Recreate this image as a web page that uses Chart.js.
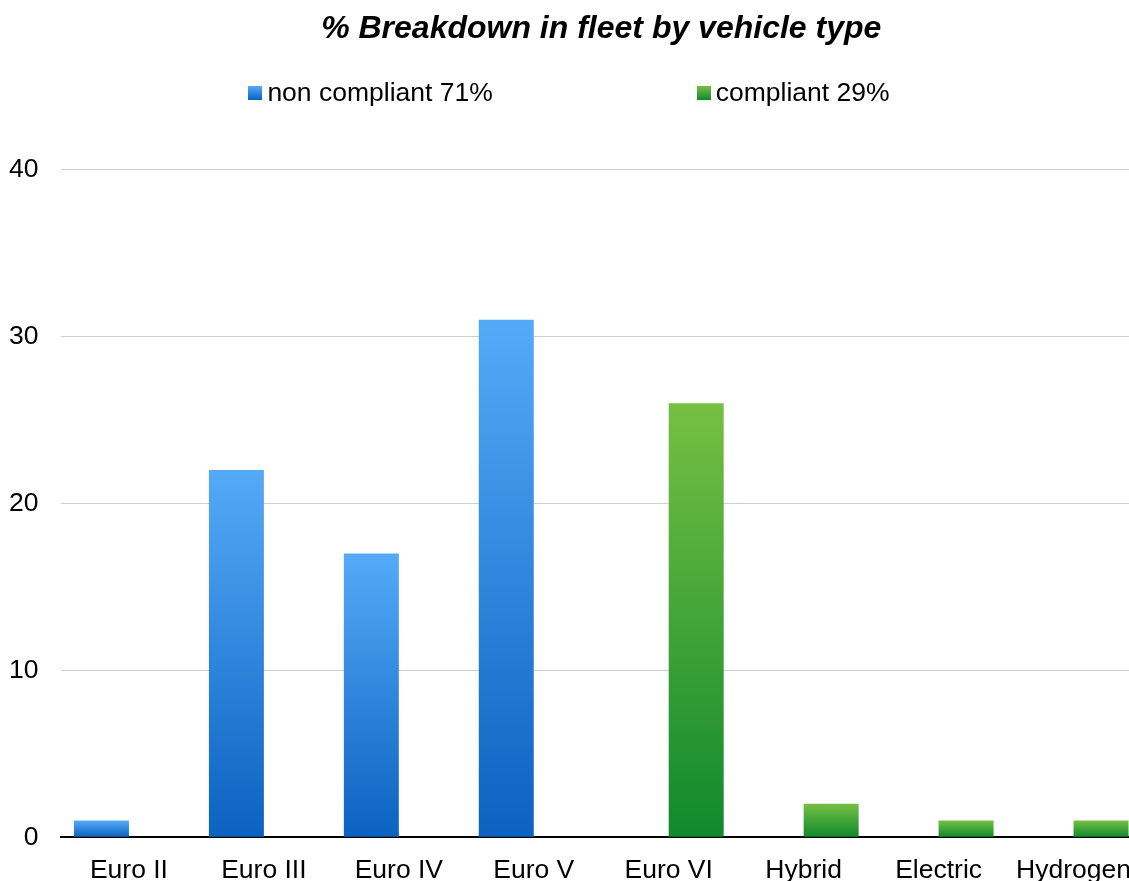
<!DOCTYPE html>
<html>
<head>
<meta charset="utf-8">
<script src="https://cdn.jsdelivr.net/npm/chart.js@4/dist/chart.umd.min.js"></script>
<style>
  html, body { margin: 0; padding: 0; background: #fff; overflow: hidden; }
  #wrap { position: relative; width: 1129px; height: 881px; overflow: hidden; }
  #legend {
    position: absolute; top: 77px; left: 0; width: 1129px;
    display: flex; justify-content: center; padding-left: 9px; box-sizing: border-box;
    font-family: "Liberation Sans", Arial, sans-serif; font-size: 26.5px; color: #000;
  }
  .item { display: flex; align-items: center; }
  .item + .item { margin-left: 204px; }
  .box { width: 14px; height: 14px; margin-right: 5px; }
</style>
</head>
<body>
<div id="wrap">
  <!-- область графика уходит за правый край, как в исходной картинке -->
  <canvas id="myChart" width="1141" height="881"></canvas>
  <div id="legend"></div>
</div>
<script>
const categories = ["Euro II", "Euro III", "Euro IV", "Euro V", "Euro VI", "Hybrid", "Electric", "Hydrogen"];
const nonCompliant = [1, 22, 17, 31, 0, 0, 0, 0];
const compliant = [0, 0, 0, 0, 26, 2, 1, 1];
const seriesLabels = ["non compliant 71%", "compliant 29%"];
const yTicks = [0, 10, 20, 30, 40];

const FONT = "'Liberation Sans', Arial, sans-serif";
const blue = ["#55aaf8", "#0b62c0"];
const green = ["#76c043", "#0f892d"];

// градиент по высоте каждого столбика
function barGradient(colors) {
  return (c) => {
    const chart = c.chart;
    if (!chart.chartArea || c.raw == null) return colors[1];
    const y = chart.scales.y;
    const top = y.getPixelForValue(c.raw);
    const base = y.getPixelForValue(0);
    if (base - top < 1) return colors[1];
    const g = chart.ctx.createLinearGradient(0, top, 0, base);
    g.addColorStop(0, colors[0]);
    g.addColorStop(1, colors[1]);
    return g;
  };
}

// легенда
const legend = document.querySelector("#legend");
[blue, green].forEach((colors, i) => {
  const item = document.createElement("div");
  item.className = "item";
  const box = document.createElement("div");
  box.className = "box";
  box.style.background = `linear-gradient(${colors[0]}, ${colors[1]})`;
  const text = document.createElement("span");
  text.textContent = seriesLabels[i];
  item.appendChild(box);
  item.appendChild(text);
  legend.appendChild(item);
});

new Chart(document.getElementById("myChart"), {
  type: "bar",
  data: {
    labels: categories,
    datasets: [
      { label: seriesLabels[0], data: nonCompliant, backgroundColor: barGradient(blue) },
      { label: seriesLabels[1], data: compliant, backgroundColor: barGradient(green) },
    ],
  },
  options: {
    responsive: false,
    animation: false,
    categoryPercentage: 0.815,
    barPercentage: 1,
    layout: { padding: { left: -14, right: 0, top: 0, bottom: -16 } },
    plugins: {
      legend: { display: false },
      tooltip: { enabled: false },
      title: {
        display: true,
        fullSize: false,
        text: "% Breakdown in fleet by vehicle type",
        color: "#000",
        font: { family: FONT, size: 32, weight: "bold", style: "italic" },
        padding: { top: 10, bottom: 121 },
      },
    },
    scales: {
      x: {
        grid: { display: false },
        border: { color: "#000", width: 2 },
        ticks: { color: "#000", font: { family: FONT, size: 26.5 }, padding: 10, maxRotation: 0 },
      },
      y: {
        min: 0,
        max: 40,
        afterBuildTicks: (s) => { s.ticks = yTicks.map((v) => ({ value: v })); },
        grid: { color: "#cfcfcf", lineWidth: 1, drawTicks: false },
        border: { display: false },
        ticks: { color: "#000", font: { family: FONT, size: 26.5 }, padding: 23 },
      },
    },
  },
});
</script>
</body>
</html>
